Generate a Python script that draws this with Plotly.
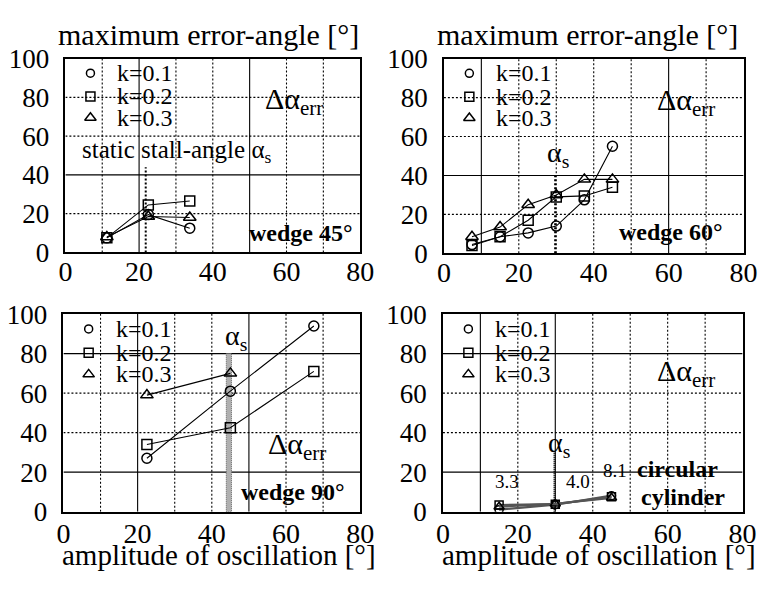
import plotly.graph_objects as go

# ---------------------------------------------------------------- data
# wedge 45°
amp45 = [11.25, 22.5, 33.75]
w45_k01 = [7.5, 19.5, 12.5]
w45_k02 = [7.5, 24.5, 26.5]
w45_k03 = [8.0, 18.5, 18.0]

# wedge 60°
amp60 = [7.5, 15, 22.5, 30, 37.5, 45]
w60_k01 = [4.5, 8.5, 10.5, 14.0, 27.5, 55.0]
w60_k02 = [4.0, 8.5, 17.0, 29.0, 29.5, 34.0]
w60_k03 = [8.5, 13.5, 25.0, 30.0, 38.0, 38.0]

# wedge 90°
amp90 = [22.5, 45, 67.5]
w90_k01 = [27.0, 61.0, 94.0]
w90_k02 = [34.0, 42.5, 71.0]
amp90_k03 = [22.5, 45]
w90_k03 = [59.0, 70.0]

# circular cylinder
ampcyl = [15, 30, 45]
cyl_k01 = [1.0, 3.5, 8.1]
cyl_k02 = [3.3, 3.8, 7.5]
cyl_k03 = [2.5, 4.0, 7.0]
cyl_labels = ["3.3", "4.0", "8.1"]

series_names = ["k=0.1", "k=0.2", "k=0.3"]
x_ticks = [0, 20, 40, 60, 80]
y_ticks = [0, 20, 40, 60, 80, 100]

# ---------------------------------------------------------------- layout helpers
W, H = 778, 595
FONT = "Liberation Serif"

# plot boxes in pixels: left, right, top, bottom
BOXES = [(60, 363, 46, 250), (449, 757, 46, 251),
         (58, 363, 315, 523), (448, 756, 315, 523)]
X_STANDOFF = [-7, -7, -4, -4]

SYMBOLS = ["circle-open", "square-open", "triangle-up-open"]
SIZES = [10, 10, 11]

fig = go.Figure()

layout = dict(width=W, height=H, margin=dict(l=0, r=0, t=0, b=0),
              paper_bgcolor="white", plot_bgcolor="white",
              showlegend=False, font=dict(family=FONT, color="black", size=20))

for i, (l, r, t, b) in enumerate(BOXES):
    n = "" if i == 0 else str(i + 1)
    layout["xaxis" + n] = dict(
        domain=[l / W, r / W], range=[0, 80], anchor="y" + n,
        tickvals=x_ticks, showgrid=False, zeroline=False,
        showline=True, mirror=True, linecolor="black", linewidth=1.6,
        ticks="", ticklen=0, tickfont=dict(size=28, family=FONT, color="black"),
        ticklabelstandoff=X_STANDOFF[i])
    layout["yaxis" + n] = dict(
        domain=[1 - b / H, 1 - t / H], range=[0, 100], anchor="x" + n,
        tickvals=y_ticks, showgrid=False, zeroline=False,
        showline=True, mirror=True, linecolor="black", linewidth=1.6,
        ticks="", ticklen=0, tickfont=dict(size=27, family=FONT, color="black"),
        ticklabelstandoff=9)

fig.update_layout(**layout)

# grid lines: (solid verticals, solid horizontals) per panel, rest dotted
v_grid = [10, 20, 30, 40, 50, 60, 70]
h_grid = [20, 40, 60, 80]
solid_v = [[20, 50], [10, 60], [20, 50], [10, 30]]
solid_h = [[40], [40], [20, 80], [20, 80]]

shapes = []
for i in range(4):
    n = "" if i == 0 else str(i + 1)
    xr, yr = "x" + n, "y" + n
    for v in v_grid:
        solid = v in solid_v[i]
        shapes.append(dict(type="line", xref=xr, yref=yr, x0=v, x1=v, y0=0, y1=100,
                           layer="below",
                           line=dict(color="black", width=1.1,
                                     dash="solid" if solid else "2px,2px")))
    for h in h_grid:
        solid = h in solid_h[i]
        shapes.append(dict(type="line", xref=xr, yref=yr, x0=0, x1=80, y0=h, y1=h,
                           layer="below",
                           line=dict(color="black", width=1.1,
                                     dash="solid" if solid else "2px,2px")))

# static stall-angle markers
shapes.append(dict(type="line", xref="x", yref="y", x0=21.8, x1=21.8, y0=0, y1=44,
                   layer="below", line=dict(color="black", width=2, dash="2px,2px")))
shapes.append(dict(type="line", xref="x2", yref="y2", x0=29.7, x1=29.7, y0=0, y1=40,
                   layer="below", line=dict(color="black", width=2, dash="2px,2px")))
shapes.append(dict(type="rect", xref="x3", yref="y3", x0=43.9, x1=45.3, y0=0, y1=80,
                   layer="below", fillcolor="#b0b0b0",
                   line=dict(color="#666", width=1, dash="1px,1px")))
shapes.append(dict(type="line", xref="x4", yref="y4", x0=29.8, x1=29.8, y0=0, y1=30,
                   layer="below", line=dict(color="black", width=2.2, dash="1px,1px")))
fig.update_layout(shapes=shapes)

# ---------------------------------------------------------------- data traces
panels = [
    [(amp45, w45_k01), (amp45, w45_k02), (amp45, w45_k03)],
    [(amp60, w60_k01), (amp60, w60_k02), (amp60, w60_k03)],
    [(amp90, w90_k01), (amp90, w90_k02), (amp90_k03, w90_k03)],
    [(ampcyl, cyl_k01), (ampcyl, cyl_k02), (ampcyl, cyl_k03)],
]
for i, series in enumerate(panels):
    n = "" if i == 0 else str(i + 1)
    line = dict(color="black", width=1.1) if i < 3 else dict(color="#555", width=2.2)
    msize = SIZES if i < 3 else [8, 8, 9]
    for j, (xs, ys) in enumerate(series):
        fig.add_trace(go.Scatter(
            x=xs, y=ys, mode="lines+markers", name=series_names[j],
            xaxis="x" + n, yaxis="y" + n, line=line,
            marker=dict(symbol=SYMBOLS[j], size=msize[j], color="black",
                        line=dict(width=1.5, color="black")),
            hoverinfo="skip"))

# ---------------------------------------------------------------- key in each panel
key_y = [92.5, 80.5, 69.5]
key_mx, key_tx = 6.8, 13.5
ann = []
for i in range(4):
    n = "" if i == 0 else str(i + 1)
    for j in range(3):
        fig.add_trace(go.Scatter(
            x=[key_mx], y=[key_y[j]], mode="markers", xaxis="x" + n, yaxis="y" + n,
            marker=dict(symbol=SYMBOLS[j], size=[8, 9, 10][j], color="black",
                        line=dict(width=1.5, color="black")),
            hoverinfo="skip"))
        ann.append(dict(xref="x" + n, yref="y" + n, x=key_tx, y=key_y[j],
                        text=series_names[j], showarrow=False, xanchor="left",
                        yanchor="middle", font=dict(size=24, family=FONT)))


def txt(ref, x, y, s, size, bold=False, xanchor="center"):
    t = f"<b>{s}</b>" if bold else s
    ann.append(dict(xref="x" + ref, yref="y" + ref, x=x, y=y, text=t,
                    showarrow=False, xanchor=xanchor, yanchor="middle",
                    font=dict(size=size, family=FONT)))


ERR = "Δα<sub>err</sub>"
AS = "α<sub>s</sub>"

# wedge 45°
txt("", 62, 78, ERR, 30)
txt("", 4, 52, "static stall-angle " + AS, 25, xanchor="left")
txt("", 64, 10, "wedge 45°", 24, bold=True)
# wedge 60°
txt("2", 64.5, 78, ERR, 30)
txt("2", 30.5, 51, AS, 28)
txt("2", 60.5, 11, "wedge 60°", 24, bold=True)
# wedge 90°
txt("3", 46.5, 88, AS, 28)
txt("3", 63, 33, ERR, 30)
txt("3", 62, 10, "wedge 90°", 24, bold=True)
# circular cylinder
txt("4", 65, 70, ERR, 30)
txt("4", 31, 34, AS, 28)
for xv, yv, lab in zip([17, 36, 46], [15.5, 15.5, 21], cyl_labels):
    txt("4", xv, yv, lab, 19)
txt("4", 62.6, 21.5, "circular", 24, bold=True)
txt("4", 64, 7.5, "cylinder", 24, bold=True)

# axis titles
for xc in [207 / W, 597 / W]:
    ann.append(dict(xref="paper", yref="paper", x=xc, y=1 - 21 / H,
                    text="maximum error-angle [°]", showarrow=False,
                    xanchor="center", yanchor="middle", font=dict(size=30, family=FONT)))
for xc in [218 / W, 608 / W]:
    ann.append(dict(xref="paper", yref="paper", x=xc, y=1 - 569 / H,
                    text="amplitude of oscillation [°]", showarrow=False,
                    xanchor="center", yanchor="middle", font=dict(size=29, family=FONT)))

fig.update_layout(annotations=ann)
fig.write_html("out.html")
